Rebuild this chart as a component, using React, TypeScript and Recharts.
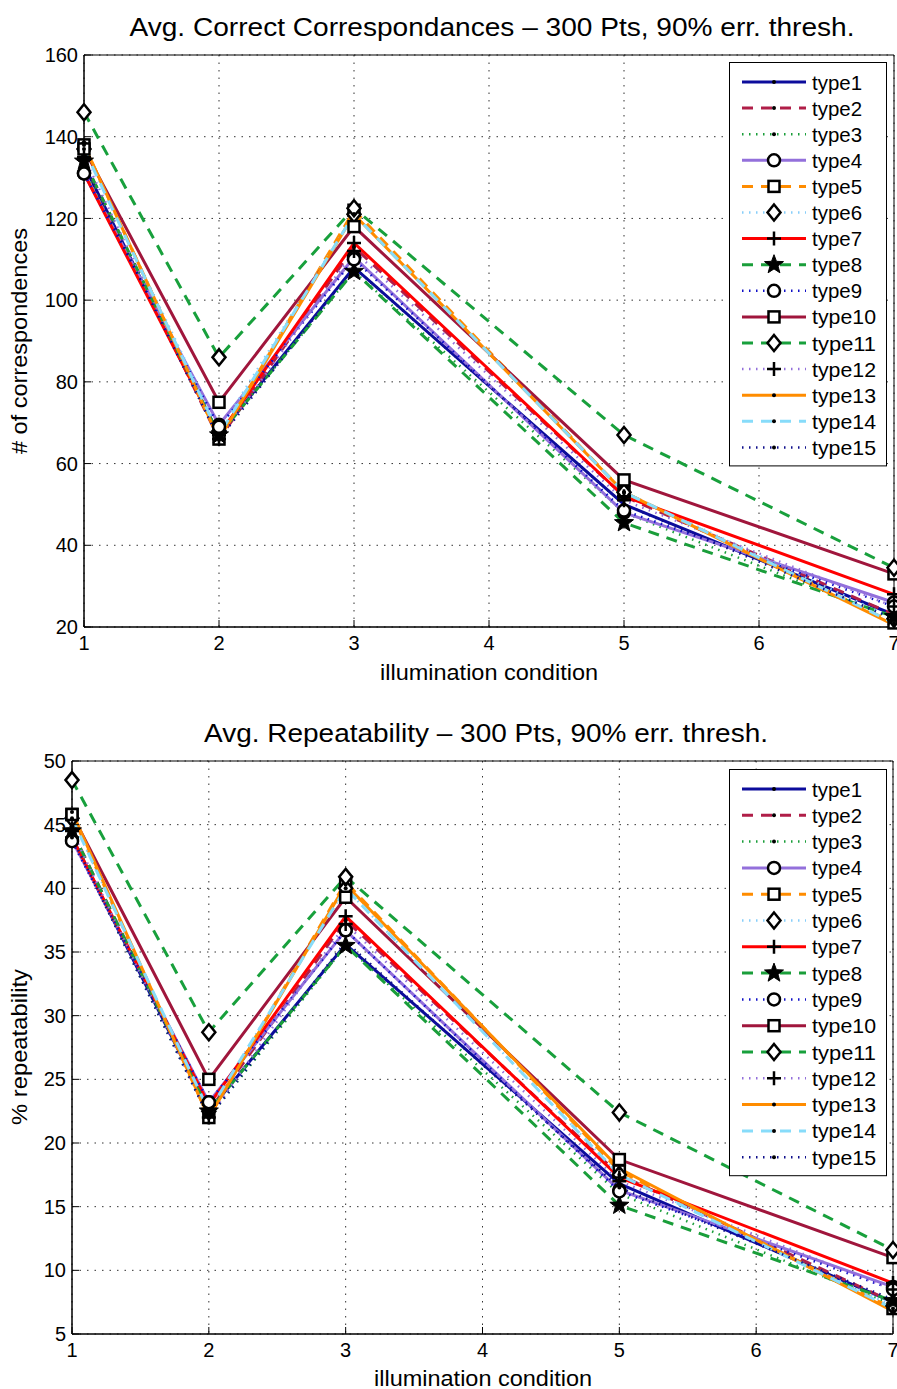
import React from 'react';
import { LineChart, Line, XAxis, YAxis, CartesianGrid, ReferenceArea } from 'recharts';

// illumination conditions that were measured
const conditions = [1, 2, 3, 5, 7];
const xTicks = [1, 2, 3, 4, 5, 6, 7];
const corrTicks = [20, 40, 60, 80, 100, 120, 140, 160];
const repTicks = [5, 10, 15, 20, 25, 30, 35, 40, 45, 50];

// avg. correct correspondences
const corr1 = [133, 67, 108, 50, 23];
const corr2 = [134, 66, 113, 52, 23];
const corr3 = [132, 67, 107, 48, 22];
const corr4 = [131, 69.5, 110.5, 48, 26];
const corr5 = [138, 66, 122, 53, 21];
const corr6 = [137, 68, 121, 53, 22];
const corr7 = [131, 67, 114, 52, 28];
const corr8 = [134, 67, 107, 45.5, 22.5];
const corr9 = [131, 69, 110, 48.5, 25];
const corr10 = [137, 75, 118, 56, 33];
const corr11 = [146, 86, 122.5, 67, 34.5];
const corr12 = [135, 66, 112, 51, 25];
const corr13 = [138, 66, 121, 53, 20.5];
const corr14 = [137, 67, 121, 53, 21];
const corr15 = [133, 66, 108, 50, 22];

// avg. repeatability (%)
const rep1 = [44, 22.5, 35.6, 16.8, 7.5];
const rep2 = [44.5, 22.5, 37.5, 17.5, 7.5];
const rep3 = [44, 22, 35.5, 16, 7.3];
const rep4 = [43.8, 23.2, 36.7, 16.3, 8.7];
const rep5 = [45.8, 22, 40.5, 17.8, 7];
const rep6 = [45.5, 22.5, 40, 17.5, 7.2];
const rep7 = [44, 23, 37.8, 17.3, 9];
const rep8 = [44.5, 22.5, 35.5, 15.1, 7.6];
const rep9 = [43.7, 23.2, 36.7, 16.2, 8.5];
const rep10 = [45.8, 25, 39.3, 18.7, 11];
const rep11 = [48.5, 28.7, 40.9, 22.4, 11.6];
const rep12 = [44.5, 22, 37.2, 17, 8.5];
const rep13 = [46, 22, 40.3, 18, 6.8];
const rep14 = [45.5, 22.5, 40, 17.5, 7];
const rep15 = [44, 22, 35.8, 16.5, 7.7];

const seriesNames = ['type1', 'type2', 'type3', 'type4', 'type5', 'type6', 'type7', 'type8',
  'type9', 'type10', 'type11', 'type12', 'type13', 'type14', 'type15'];
const corrSeries = [corr1, corr2, corr3, corr4, corr5, corr6, corr7, corr8, corr9, corr10, corr11, corr12, corr13, corr14, corr15];
const repSeries = [rep1, rep2, rep3, rep4, rep5, rep6, rep7, rep8, rep9, rep10, rep11, rep12, rep13, rep14, rep15];

// styles
const colors = ['#0c0c9c', '#b01e48', '#1a9e3a', '#9370db', '#ff8c00', '#87cefa', '#ff0000', '#1a9e3a',
  '#1010c8', '#a0163c', '#18a03c', '#9370db', '#ff8c00', '#87dcfa', '#10108c'];
const dashes = ['', '11 8', '1.5 5.5', '', '11 8', '1.5 5.5', '', '11 8',
  '1.5 5.5', '', '11 8', '1.5 5.5', '', '11 8', '1.5 5.5'];
const markers = ['point', 'point', 'point', 'circle', 'square', 'diamond', 'plus', 'star',
  'circle', 'square', 'diamond', 'plus', 'point', 'point', 'point'];

const FONT = '"Liberation Sans", Arial, sans-serif';

function buildRows(series: number[][]) {
  return conditions.map((c, i) => {
    const row: any = { cond: c };
    seriesNames.forEach((n, k) => { row[n] = series[k][i]; });
    return row;
  });
}

function Marker({ kind, cx, cy }: { kind: string; cx: number; cy: number }) {
  const sw = 2.5;
  if (kind === 'circle') return <circle cx={cx} cy={cy} r={6} fill="#fff" stroke="#000" strokeWidth={sw} />;
  if (kind === 'square') return <rect x={cx - 5.5} y={cy - 5.5} width={11} height={11} fill="#fff" stroke="#000" strokeWidth={sw} />;
  if (kind === 'diamond') return <polygon points={`${cx},${cy - 8} ${cx + 6.5},${cy} ${cx},${cy + 8} ${cx - 6.5},${cy}`} fill="#fff" stroke="#000" strokeWidth={sw} />;
  if (kind === 'plus') return <path d={`M${cx - 7},${cy}H${cx + 7}M${cx},${cy - 7}V${cy + 7}`} stroke="#000" strokeWidth={sw} />;
  if (kind === 'star') {
    const pts: string[] = [];
    for (let i = 0; i < 10; i++) {
      const r = i % 2 === 0 ? 10 : 4.2;
      const a = -Math.PI / 2 + (i * Math.PI) / 5;
      pts.push(`${cx + r * Math.cos(a)},${cy + r * Math.sin(a)}`);
    }
    return <polygon points={pts.join(' ')} fill="#000" stroke="#000" strokeWidth={1} />;
  }
  return <circle cx={cx} cy={cy} r={2} fill="#000" />;
}

function LegendBox({ left, top, step }: { left: number; top: number; step: number }) {
  const h = step * 14 + 38;
  return (
    <svg width={158} height={h + 2} style={{ position: 'absolute', left, top }}>
      <rect x={0.5} y={0.5} width={157} height={h} fill="#fff" stroke="#000" strokeWidth={1} />
      {seriesNames.map((n, i) => {
        const y = 20 + i * step;
        return (
          <g key={n}>
            <line x1={13} x2={77} y1={y} y2={y} stroke={colors[i]} strokeWidth={dashes[i] === '1.5 5.5' ? 2.5 : 3}
              strokeDasharray={dashes[i] || undefined} />
            <Marker kind={markers[i]} cx={45} cy={y} />
            <text x={83} y={y} dominantBaseline="central" fontSize={21} fontFamily={FONT} fill="#000"
              textLength={n.length === 6 ? 64 : 50} lengthAdjust="spacingAndGlyphs">{n}</text>
          </g>
        );
      })}
    </svg>
  );
}

function Panel({ series, ticks, height, margin, title, yLabel, legendTop, legendStep, labels }: any) {
  const data = buildRows(series);
  return (
    <div style={{ position: 'relative', width: 897, height }}>
      <LineChart width={897} height={height} data={data} margin={margin}>
        <CartesianGrid stroke="#333" strokeDasharray="1.5 6" />
        <XAxis dataKey="cond" type="number" domain={[1, 7]} ticks={xTicks} height={30} tickSize={-7}
          tickLine={{ stroke: '#000' }} tickMargin={16} axisLine={{ stroke: '#000' }}
          tick={{ fill: '#000', fontSize: 20, fontFamily: FONT }} interval={0} />
        <YAxis type="number" domain={[ticks[0], ticks[ticks.length - 1]]} ticks={ticks} width={60} tickSize={-7}
          tickLine={{ stroke: '#000' }} tickMargin={13} axisLine={{ stroke: '#000' }}
          tick={{ fill: '#000', fontSize: 20, fontFamily: FONT }} interval={0} />
        <ReferenceArea x1={1} x2={7} y1={ticks[0]} y2={ticks[ticks.length - 1]} fill="none" stroke="#000" strokeWidth={1} ifOverflow="visible" />
        {seriesNames.map((n, i) => (
          <Line key={n} dataKey={n} type="linear" stroke={colors[i]} strokeWidth={dashes[i] === '1.5 5.5' ? 2.5 : 3}
            strokeDasharray={dashes[i] || undefined} isAnimationActive={false} activeDot={false}
            dot={(p: any) => <g key={`${n}-${p.index}`}><Marker kind={markers[i]} cx={p.cx} cy={p.cy} /></g>} />
        ))}
      </LineChart>
      <svg width={897} height={height} style={{ position: 'absolute', left: 0, top: 0, pointerEvents: 'none' }}>
        <text x={labels.titleX} y={labels.titleY} textAnchor="middle" dominantBaseline="central" fontSize={25} fontFamily={FONT}
          textLength={labels.titleW} lengthAdjust="spacingAndGlyphs">{title}</text>
        <text x={labels.xLabelX} y={labels.xLabelY} textAnchor="middle" dominantBaseline="central" fontSize={22} fontFamily={FONT}
          textLength={218} lengthAdjust="spacingAndGlyphs">illumination condition</text>
        <text transform={`translate(19,${labels.yLabelY}) rotate(-90)`} textAnchor="middle" dominantBaseline="central" fontSize={22}
          fontFamily={FONT} textLength={labels.yLabelW} lengthAdjust="spacingAndGlyphs">{yLabel}</text>
      </svg>
      <LegendBox left={729} top={legendTop} step={legendStep} />
    </div>
  );
}

export default function App() {
  return (
    <div style={{ position: 'absolute', left: 0, top: 0, width: 897, height: 1389, background: '#fff' }}>
      <Panel series={corrSeries} ticks={corrTicks} height={700}
        margin={{ top: 55, right: 3, bottom: 43, left: 24 }}
        title="Avg. Correct Correspondances – 300 Pts, 90% err. thresh."
        yLabel="# of correspondences" legendTop={62} legendStep={26.1}
        labels={{ titleX: 492, titleY: 27, titleW: 725, xLabelX: 489, xLabelY: 672, yLabelY: 341, yLabelW: 226 }} />
      <Panel series={repSeries} ticks={repTicks} height={689}
        margin={{ top: 61, right: 4, bottom: 25, left: 12 }}
        title="Avg. Repeatability – 300 Pts, 90% err. thresh."
        yLabel="% repeatability" legendTop={69} legendStep={26.3}
        labels={{ titleX: 486, titleY: 33, titleW: 564, xLabelX: 483, xLabelY: 678, yLabelY: 347, yLabelW: 156 }} />
    </div>
  );
}
